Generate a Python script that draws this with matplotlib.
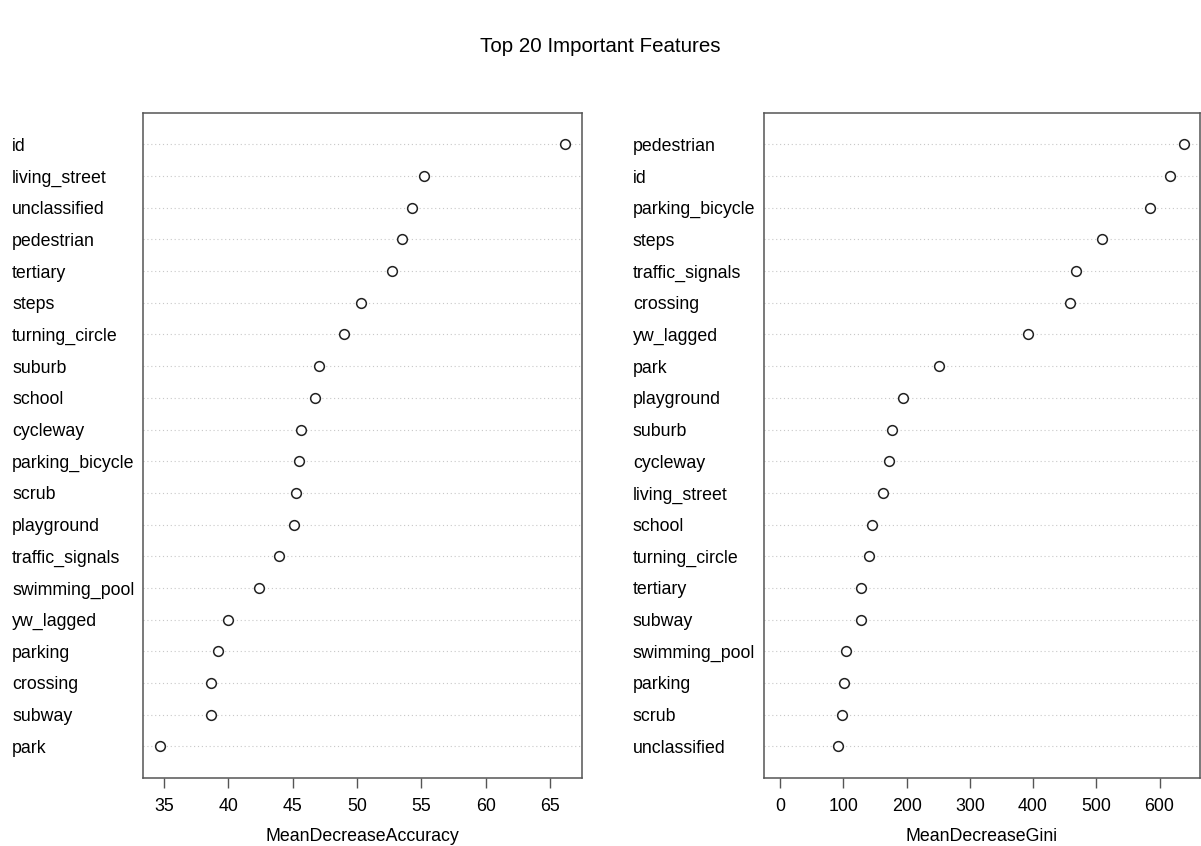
import numpy as np
import matplotlib.pyplot as plt

plt.rcParams['font.family'] = ['Liberation Sans', 'DejaVu Sans']

# importance values, listed from the top row downwards
acc_features = ['id', 'living_street', 'unclassified', 'pedestrian', 'tertiary',
                'steps', 'turning_circle', 'suburb', 'school', 'cycleway',
                'parking_bicycle', 'scrub', 'playground', 'traffic_signals',
                'swimming_pool', 'yw_lagged', 'parking', 'crossing', 'subway', 'park']
acc_values = [66.2, 55.2, 54.3, 53.5, 52.7, 50.3, 49.0, 47.05, 46.7, 45.6,
              45.45, 45.27, 45.09, 43.9, 42.37, 39.95, 39.2, 38.67, 38.64, 34.64]

gini_features = ['pedestrian', 'id', 'parking_bicycle', 'steps', 'traffic_signals',
                 'crossing', 'yw_lagged', 'park', 'playground', 'suburb',
                 'cycleway', 'living_street', 'school', 'turning_circle', 'tertiary',
                 'subway', 'swimming_pool', 'parking', 'scrub', 'unclassified']
gini_values = [638.5, 617, 585.6, 509.4, 467.6, 459.2, 391.4, 251.7, 194.0, 177.6,
               172.4, 161.9, 145.0, 140.3, 128.3, 127.6, 103.4, 101.6, 98.0, 91.3]

acc_ticks = [35, 40, 45, 50, 55, 60, 65]
gini_ticks = [0, 100, 200, 300, 400, 500, 600]

W, H = 1201, 846
fig = plt.figure(figsize=(W / 100, H / 100), dpi=100)
fig.text(0.5, 1 - 47 / H, 'Top 20 Important Features', ha='center', va='center',
         fontsize=14.8)

fs = 12.8
edge = '#555555'


def dotchart(ax, names, vals, ticks, xlabel, from_zero):
    n = len(names)
    ys = np.arange(n, 0, -1)
    for y in ys:
        ax.axhline(y, color='#c8c8c8', lw=0.8, ls=(0, (1, 2.5)), zorder=1)
    ax.plot(vals, ys, ls='none', marker='o', mfc='white', mec='#222222',
            mew=1.1, ms=7, zorder=3)
    # R-style range: 4% padding on each side
    lo = 0 if from_zero else min(vals)
    hi = max(vals)
    pad = 0.04 * (hi - lo)
    ax.set_xlim(lo - pad, hi + pad)
    ax.set_ylim(0, n + 1)
    ax.set_yticks(ys)
    ax.set_yticklabels(names, fontsize=fs, ha='left')
    ax.tick_params(axis='y', length=0, pad=94.5)
    ax.set_xticks(ticks)
    ax.set_xticklabels([str(t) for t in ticks], fontsize=fs)
    ax.tick_params(axis='x', length=7.2, width=1.0, color=edge, pad=7)
    ax.set_xlabel(xlabel, fontsize=fs, labelpad=9.5)
    for s in ax.spines.values():
        s.set_color(edge)
        s.set_linewidth(1.1)


ax1 = fig.add_axes([143.3 / W, 1 - 778 / H, (581.7 - 143.3) / W, (778 - 112.7) / H])
ax2 = fig.add_axes([764 / W, 1 - 778 / H, (1200 - 764) / W, (778 - 112.7) / H])

dotchart(ax1, acc_features, acc_values, acc_ticks, 'MeanDecreaseAccuracy', False)
dotchart(ax2, gini_features, gini_values, gini_ticks, 'MeanDecreaseGini', True)

fig.savefig('out.png', dpi=100)
